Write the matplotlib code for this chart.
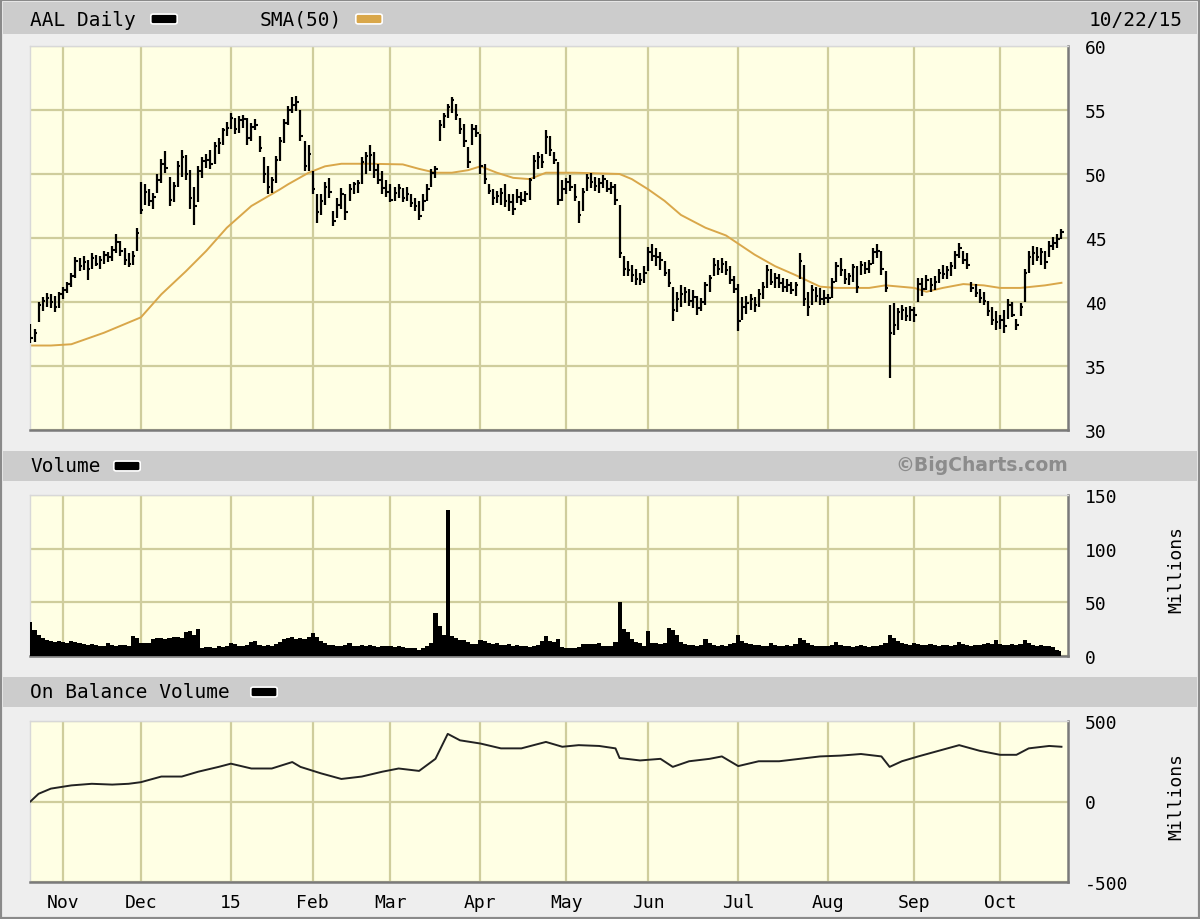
# plot.py
# --------------------------------------------
# AAL daily bar chart, BigCharts style
# price + SMA(50), volume, on balance volume
# --------------------------------------------

import numpy as np
import pandas as pd
import matplotlib
matplotlib.use("Agg")
import matplotlib.pyplot as plt
from matplotlib.patches import Rectangle, FancyBboxPatch


# =========================
# DATA
# =========================
START, END = "2014-10-22", "2015-10-22"
HOLIDAYS = ["2014-11-27", "2014-12-25", "2015-01-01", "2015-01-19", "2015-02-16",
            "2015-04-03", "2015-05-25", "2015-07-03", "2015-09-07"]

high = [
    38.3, 37.9, 40.0, 40.4, 40.7, 40.6, 40.5, 40.8,  # Oct 14
    41.2, 41.6, 42.3, 43.5, 43.4, 43.6, 43.3, 43.8, 43.7, 43.6, 44.0, 43.9, 44.4, 45.3, 44.8, 44.2, 43.8, 44.0, 45.8,
    49.4, 49.2, 48.8, 48.5, 50.0, 51.2, 51.8, 49.8, 49.4, 51.0, 51.9, 51.5, 50.3, 49.0, 50.6, 51.3, 51.6, 51.9, 52.5, 52.8, 53.6, 54.1,
    54.8, 54.4, 54.5, 54.6, 54.4, 54.0, 54.3, 53.0, 51.3, 50.6, 49.8, 51.4, 52.9, 54.3, 55.3, 56.0, 56.1, 55.0, 52.6, 52.3,
    50.2, 48.4, 48.4, 49.4, 49.7, 47.1, 48.1, 48.9, 48.4, 49.2, 49.4, 49.5, 51.3, 51.7, 52.3, 51.7, 50.8, 50.2, 49.5,
    49.2, 49.0, 49.2, 48.9, 49.0, 48.4, 48.1, 47.9, 48.4, 49.2, 50.4, 50.6, 54.2, 54.8, 55.5, 56.0, 55.5, 54.4, 53.9, 52.1, 53.9, 53.8,
    53.1, 50.8, 49.2, 48.8, 48.7, 48.9, 49.2, 48.4, 48.4, 48.8, 48.6, 48.7, 49.7, 51.5, 51.7, 51.6, 53.4, 53.0, 51.7, 50.9, 49.5,
    49.7, 49.9, 49.2, 47.9, 48.9, 50.0, 50.1, 49.8, 49.7, 49.9, 49.5, 49.4, 49.2, 47.6, 43.6, 43.2, 42.9, 42.6, 42.3, 42.8,
    44.3, 44.5, 44.2, 43.9, 43.2, 42.6, 41.2, 40.8, 41.3, 41.2, 41.0, 40.9, 40.5, 40.3, 41.6, 42.1, 43.4, 43.3, 43.4, 43.2, 42.8, 42.0,
    41.4, 40.4, 40.5, 40.6, 40.4, 41.0, 41.6, 42.9, 42.6, 42.3, 42.2, 41.9, 41.8, 41.6, 41.6, 43.8, 42.9, 40.8, 41.3, 41.2, 41.1, 40.9,
    40.6, 41.9, 43.1, 43.4, 42.6, 42.3, 43.0, 42.8, 43.2, 43.1, 43.3, 44.2, 44.5, 44.0, 42.4, 39.8, 39.9, 39.5, 39.8, 39.6, 39.7,
    39.6, 41.9, 41.9, 42.1, 41.9, 42.0, 42.6, 42.9, 42.8, 43.1, 44.0, 44.6, 44.0, 43.8, 41.6, 41.4, 41.0, 40.8, 40.1, 39.6, 39.3,
    39.0, 39.4, 40.2, 40.0, 38.7, 39.9, 42.6, 44.0, 44.4, 44.3, 44.2, 44.0, 44.8, 45.1, 45.3, 45.7,  # Oct 15
]

low = [
    36.8, 36.9, 38.4, 39.3, 39.6, 39.5, 39.2, 39.5,
    40.2, 40.7, 41.2, 41.9, 42.4, 42.5, 41.7, 42.6, 42.8, 42.6, 43.0, 43.1, 43.2, 43.8, 43.6, 42.9, 42.7, 42.9, 44.0,
    46.9, 47.6, 47.5, 47.3, 48.5, 49.3, 50.1, 47.5, 47.8, 49.0, 49.8, 49.5, 47.3, 46.0, 47.8, 49.7, 50.5, 50.4, 50.8, 51.6, 52.3, 53.0,
    53.5, 53.1, 53.2, 53.6, 52.3, 52.6, 53.4, 51.7, 49.3, 48.4, 48.5, 49.3, 51.0, 52.4, 53.8, 54.8, 54.9, 52.6, 50.2, 50.2,
    48.4, 46.2, 46.8, 47.6, 48.1, 45.9, 46.6, 47.3, 46.4, 47.9, 48.4, 48.5, 49.2, 50.0, 50.2, 49.7, 49.2, 48.4, 48.2,
    47.8, 47.9, 48.1, 47.8, 47.9, 47.4, 47.1, 46.4, 47.1, 47.9, 49.0, 49.7, 52.6, 53.6, 54.4, 54.8, 54.2, 53.1, 52.1, 50.5, 52.3, 52.9,
    50.0, 49.2, 48.4, 47.6, 47.7, 47.6, 47.4, 47.1, 46.8, 47.7, 47.6, 47.8, 48.0, 49.6, 50.4, 50.5, 51.6, 51.4, 50.8, 47.6, 47.9,
    48.4, 48.7, 47.9, 46.2, 47.1, 48.7, 48.9, 48.7, 48.5, 48.9, 48.6, 48.4, 47.6, 43.4, 42.0, 42.0, 41.6, 41.3, 41.3, 41.5,
    42.4, 43.2, 42.8, 42.5, 42.0, 41.2, 38.5, 39.2, 39.6, 39.9, 39.7, 39.5, 39.0, 39.3, 39.8, 40.8, 42.0, 42.1, 42.3, 42.1, 41.4, 40.7,
    37.7, 38.6, 39.1, 39.4, 39.2, 39.6, 40.2, 41.1, 41.3, 41.1, 41.1, 40.8, 40.8, 40.6, 40.5, 41.8, 39.7, 38.9, 39.8, 40.0, 39.8, 39.8,
    39.9, 40.3, 41.6, 42.0, 41.4, 41.3, 41.6, 40.7, 42.1, 42.2, 42.3, 43.0, 43.4, 42.1, 40.8, 34.1, 37.4, 37.8, 38.6, 38.5, 38.5,
    38.4, 40.0, 40.5, 40.9, 40.8, 40.9, 41.5, 41.8, 41.8, 42.0, 42.6, 43.4, 43.0, 42.6, 40.8, 40.4, 39.9, 39.8, 38.9, 38.2, 37.8,
    37.9, 37.6, 38.7, 38.8, 37.8, 38.9, 40.0, 42.3, 42.9, 43.2, 42.9, 42.6, 43.5, 44.1, 44.2, 44.9,
]

close = [
    37.2, 37.6, 39.8, 40.1, 40.3, 40.0, 39.6, 40.6,
    40.9, 41.4, 42.0, 43.2, 42.8, 43.1, 42.6, 43.4, 43.0, 43.3, 43.7, 43.5, 44.1, 44.7, 44.0, 43.3, 43.0, 43.6, 45.4,
    47.2, 48.6, 47.9, 48.2, 49.5, 50.8, 50.5, 48.0, 49.1, 50.6, 51.3, 50.0, 48.1, 47.5, 50.2, 51.0, 51.1, 50.8, 52.2, 52.4, 53.4, 53.6,
    54.4, 53.5, 54.2, 54.3, 52.8, 53.7, 53.8, 52.0, 50.0, 49.0, 49.5, 51.1, 52.6, 54.0, 55.0, 55.4, 55.6, 53.0, 50.6, 51.6,
    48.8, 47.0, 47.9, 49.0, 48.6, 46.3, 47.6, 48.4, 47.0, 48.8, 49.2, 49.3, 50.9, 51.4, 51.5, 50.3, 49.5, 48.9, 48.6,
    48.0, 48.5, 48.9, 48.1, 48.4, 47.7, 47.5, 46.7, 47.9, 48.8, 50.1, 50.4, 53.8, 54.5, 55.2, 55.8, 54.6, 53.5, 52.6, 50.9, 53.5, 53.2,
    50.6, 49.6, 48.7, 48.1, 48.3, 48.5, 47.9, 47.8, 47.3, 48.2, 48.0, 48.4, 49.5, 51.0, 51.3, 50.9, 52.9, 51.9, 51.1, 48.0, 48.8,
    49.4, 49.0, 48.2, 46.8, 48.6, 49.7, 49.4, 49.1, 49.3, 49.6, 48.8, 49.0, 48.0, 43.8, 42.6, 42.5, 42.1, 41.8, 41.7, 42.3,
    43.9, 43.6, 43.5, 43.3, 42.3, 41.5, 39.4, 40.2, 40.6, 40.8, 40.1, 40.4, 39.5, 40.0, 41.3, 41.9, 42.9, 42.6, 43.0, 42.5, 41.7, 41.0,
    38.5, 39.6, 39.9, 40.2, 39.8, 40.6, 41.2, 42.5, 41.6, 41.9, 41.5, 41.2, 41.3, 40.9, 41.3, 43.2, 40.2, 39.6, 40.9, 40.5, 40.2, 40.3,
    40.3, 41.6, 42.8, 42.5, 41.8, 42.0, 42.7, 41.2, 42.9, 42.6, 43.0, 43.9, 44.0, 42.6, 41.1, 37.6, 38.2, 39.2, 39.4, 38.9, 39.4,
    39.0, 41.4, 41.0, 41.7, 41.3, 41.6, 42.3, 42.2, 42.5, 42.8, 43.7, 44.2, 43.3, 42.9, 41.1, 40.7, 40.3, 40.1, 39.3, 38.6, 38.4,
    38.6, 38.1, 39.8, 39.0, 38.2, 39.6, 42.3, 43.5, 43.8, 43.5, 43.9, 43.1, 44.4, 44.6, 44.9, 45.5,
]

# volume, millions of shares
volume = [
    32, 24, 20, 17, 15, 14, 13, 14,
    13, 12, 14, 13, 12, 11, 10, 11, 10, 9, 9, 12, 10, 9, 10, 10, 9, 19, 17,
    12, 12, 12, 16, 17, 17, 16, 17, 18, 18, 17, 22, 23, 20, 25, 7, 8, 8, 7, 9, 8, 9,
    12, 11, 9, 9, 10, 13, 14, 10, 9, 10, 9, 11, 13, 16, 17, 18, 16, 17, 16, 18,
    21, 18, 14, 12, 10, 10, 9, 9, 10, 12, 9, 9, 10, 9, 10, 9, 8, 9, 9,
    9, 8, 9, 8, 7, 7, 7, 6, 7, 9, 12, 40, 28, 20, 136, 19, 17, 15, 15, 13, 11, 11,
    15, 14, 12, 11, 12, 10, 10, 11, 9, 10, 9, 9, 8, 9, 10, 14, 19, 14, 13, 16, 8,
    7, 7, 7, 8, 11, 11, 11, 11, 12, 9, 9, 9, 13, 50, 25, 22, 16, 13, 12, 9,
    23, 12, 12, 11, 12, 26, 24, 20, 13, 11, 10, 10, 9, 10, 16, 12, 10, 9, 10, 9, 11, 12,
    20, 14, 12, 11, 10, 10, 9, 9, 12, 10, 9, 9, 10, 9, 11, 17, 15, 12, 10, 9, 9, 9,
    9, 10, 13, 10, 9, 9, 8, 9, 10, 9, 8, 9, 9, 10, 12, 20, 17, 14, 12, 11, 10,
    12, 11, 10, 10, 11, 10, 9, 10, 10, 9, 10, 13, 11, 10, 9, 10, 10, 11, 12, 11, 15,
    11, 10, 10, 11, 10, 11, 15, 12, 10, 9, 10, 9, 9, 8, 6, 5,
]

# SMA(50) read at these dates
sma_dates = ["2014-10-22", "2014-10-29", "2014-11-05", "2014-11-17", "2014-12-01", "2014-12-08",
             "2014-12-16", "2014-12-23", "2014-12-31", "2015-01-09", "2015-01-21", "2015-01-23",
             "2015-01-30", "2015-02-05", "2015-02-11", "2015-02-23", "2015-03-05", "2015-03-11",
             "2015-03-17", "2015-03-23", "2015-03-27", "2015-04-01", "2015-04-08", "2015-04-14",
             "2015-04-20", "2015-04-24", "2015-05-05", "2015-05-20", "2015-05-26", "2015-06-01",
             "2015-06-05", "2015-06-11", "2015-06-19", "2015-06-26", "2015-07-08", "2015-07-15",
             "2015-07-22", "2015-07-30", "2015-08-05", "2015-08-17", "2015-08-21", "2015-09-01",
             "2015-09-04", "2015-09-11", "2015-09-18", "2015-09-25", "2015-10-01", "2015-10-08",
             "2015-10-16", "2015-10-22"]
sma_vals = [36.6, 36.6, 36.7, 37.6, 38.8, 40.6,
            42.4, 44.0, 45.8, 47.5, 48.8, 49.2,
            50.1, 50.6, 50.8, 50.8, 50.75, 50.4,
            50.1, 50.1, 50.3, 50.6, 50.1, 49.7,
            49.6, 50.1, 50.1, 50.0, 49.6, 48.8,
            47.9, 46.8, 45.8, 45.2, 43.7, 42.8,
            42.1, 41.2, 41.1, 41.1, 41.3, 41.1,
            40.8, 41.1, 41.4, 41.3, 41.1, 41.1,
            41.3, 41.5]

# On Balance Volume (millions) read at these dates
obv_dates = ["2014-10-22", "2014-10-24", "2014-10-29", "2014-11-05", "2014-11-12", "2014-11-19",
             "2014-11-25", "2014-12-01", "2014-12-08", "2014-12-15", "2014-12-19", "2014-12-29",
             "2015-01-02", "2015-01-09", "2015-01-16", "2015-01-26", "2015-01-28", "2015-02-04",
             "2015-02-11", "2015-02-19", "2015-02-26", "2015-03-04", "2015-03-11", "2015-03-17",
             "2015-03-20", "2015-03-25", "2015-04-01", "2015-04-09", "2015-04-16", "2015-04-24",
             "2015-04-30", "2015-05-06", "2015-05-13", "2015-05-19", "2015-05-20", "2015-05-28",
             "2015-06-04", "2015-06-09", "2015-06-15", "2015-06-22", "2015-06-25", "2015-07-01",
             "2015-07-09", "2015-07-16", "2015-07-23", "2015-07-30", "2015-08-06", "2015-08-13",
             "2015-08-20", "2015-08-24", "2015-08-27", "2015-09-02", "2015-09-10", "2015-09-17",
             "2015-09-24", "2015-10-01", "2015-10-07", "2015-10-12", "2015-10-19", "2015-10-22"]
obv_vals = [0, 48, 80, 100, 110, 105,
            110, 120, 155, 155, 185, 215,
            235, 205, 205, 245, 215, 175,
            140, 155, 185, 205, 190, 265,
            420, 380, 360, 330, 330, 370,
            340, 350, 345, 330, 270, 255,
            265, 215, 250, 265, 280, 220,
            250, 250, 265, 280, 285, 295,
            280, 215, 250, 280, 315, 350,
            315, 290, 290, 330, 345, 340]

price_ticks = [30, 35, 40, 45, 50, 55, 60]
vol_ticks = [0, 50, 100, 150]
obv_ticks = [-500, 0, 500]
month_labels = ["Nov", "Dec", "15", "Feb", "Mar", "Apr", "May", "Jun", "Jul", "Aug", "Sep", "Oct"]


# =========================
# STYLE
# =========================
W, H = 1200, 920
MONO = "DejaVu Sans Mono"
BG = "#EEEEEE"
PANEL = "#FFFFE4"
GRID = "#CFCD9C"
HEADER = "#CCCCCC"
SMA_COL = "#D9A74A"


def fx(px):
    return px / W


def fy(py):
    return 1 - py / H


def make_panel(fig, left, top, right, bottom):
    ax = fig.add_axes([fx(left), fy(bottom), (right - left) / W, (bottom - top) / H])
    ax.set_facecolor(PANEL)
    for side in ("top", "left"):
        ax.spines[side].set_color("#D8D8D8")
        ax.spines[side].set_linewidth(1.0)
    for side in ("right", "bottom"):
        ax.spines[side].set_color("#7A7A7A")
        ax.spines[side].set_linewidth(1.8)
    ax.yaxis.tick_right()
    ax.tick_params(axis="y", length=0, pad=12, labelsize=13)
    ax.tick_params(axis="x", length=0)
    ax.set_axisbelow(True)
    return ax


def header_bar(fig, top, bottom):
    fig.patches.append(Rectangle((fx(3), fy(bottom)), fx(1194), (bottom - top) / H,
                                 transform=fig.transFigure, facecolor=HEADER,
                                 edgecolor="none", zorder=0))


def swatch(fig, x, y, color):
    fig.patches.append(FancyBboxPatch((fx(x), fy(y + 4)), fx(24), 8 / H,
                                      boxstyle="round,pad=0.001,rounding_size=0.002",
                                      transform=fig.transFigure, facecolor=color,
                                      edgecolor="white", linewidth=1.2, zorder=3))


def main():
    # trading days
    days = pd.bdate_range(START, END)
    days = days[~days.isin(pd.to_datetime(HOLIDAYS))]
    n = len(days)
    assert n == len(high) == len(low) == len(close) == len(volume)
    x = np.arange(n)
    pos = pd.Series(x, index=days)

    month_first = [pos[days[(days.year == d.year) & (days.month == d.month)][0]]
                   for d in pd.date_range("2014-11-01", "2015-10-01", freq="MS")]

    sma_x = pos[pd.to_datetime(sma_dates)].values
    obv_x = pos[pd.to_datetime(obv_dates)].values

    fig = plt.figure(figsize=(W / 100, H / 100), dpi=100)
    fig.patch.set_facecolor(BG)

    # headers
    header_bar(fig, 3, 35)
    header_bar(fig, 452, 482)
    header_bar(fig, 678, 708)

    fig.text(fx(30), fy(20), "AAL Daily", family=MONO, fontsize=14, va="center", ha="left")
    swatch(fig, 152, 20, "black")
    fig.text(fx(260), fy(20), "SMA(50)", family=MONO, fontsize=14, va="center", ha="left")
    swatch(fig, 357, 20, SMA_COL)
    fig.text(fx(1183), fy(20), "10/22/15", family=MONO, fontsize=14, va="center", ha="right")

    fig.text(fx(30), fy(467), "Volume", family=MONO, fontsize=14, va="center", ha="left")
    swatch(fig, 115, 467, "black")
    fig.text(fx(1068), fy(466), "\u00a9BigCharts.com", family="DejaVu Sans",
             fontweight="bold", fontsize=13.5, color="#8C8C8C", va="center", ha="right")

    fig.text(fx(30), fy(693), "On Balance Volume", family=MONO, fontsize=14, va="center", ha="left")
    swatch(fig, 252, 693, "black")

    # -------------------------
    # 1) Price
    # -------------------------
    ax1 = make_panel(fig, 30, 47, 1068, 431)
    ax1.set_ylim(30, 60)
    ax1.set_yticks(price_ticks)
    ax1.vlines(x, low, high, color="black", lw=1.6, zorder=3)
    ax1.hlines(close, x, x + 0.6, color="black", lw=1.5, zorder=3)
    ax1.plot(sma_x, sma_vals, color=SMA_COL, lw=1.4, zorder=2)

    # -------------------------
    # 2) Volume
    # -------------------------
    ax2 = make_panel(fig, 30, 496, 1068, 657)
    ax2.set_ylim(0, 150)
    ax2.set_yticks(vol_ticks)
    ax2.fill_between(x, volume, step="mid", color="black", lw=0, zorder=3)

    # -------------------------
    # 3) On Balance Volume
    # -------------------------
    ax3 = make_panel(fig, 30, 722, 1068, 883)
    ax3.set_ylim(-500, 500)
    ax3.set_yticks(obv_ticks)
    ax3.plot(obv_x, obv_vals, color="#222222", lw=1.4, zorder=3)

    for ax in (ax1, ax2, ax3):
        ax.set_xlim(-0.1, 253.6)
        ax.set_xticks(month_first)
        ax.grid(True, color=GRID, lw=1.6)
        ax.set_yticklabels([str(t) for t in ax.get_yticks().astype(int)], family=MONO, fontsize=13)
    for ax in (ax1, ax2):
        ax.set_xticklabels([])
    ax3.set_xticklabels(month_labels, family=MONO, fontsize=13)
    ax3.tick_params(axis="x", pad=8)

    fig.text(fx(1176), fy(570), "Millions", family=MONO, fontsize=13, rotation=90,
             va="center", ha="center")
    fig.text(fx(1176), fy(797), "Millions", family=MONO, fontsize=13, rotation=90,
             va="center", ha="center")

    # outer frame
    fig.patches.append(Rectangle((0, 0), 1, 1, transform=fig.transFigure, fill=False,
                                 edgecolor="#8A8A8A", linewidth=3, zorder=5))

    fig.savefig("out.png", dpi=100, facecolor=BG)
    plt.close(fig)


if __name__ == "__main__":
    main()
